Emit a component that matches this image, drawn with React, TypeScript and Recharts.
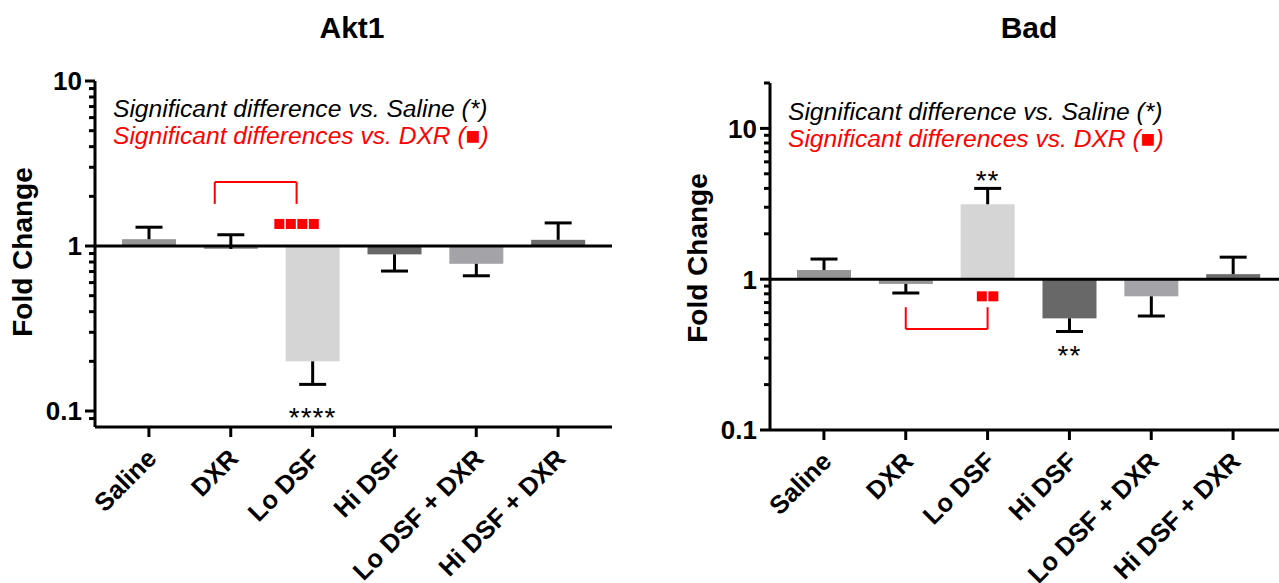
import React from "react";
import { BarChart, Bar, XAxis, YAxis, ReferenceLine, ReferenceDot, Cell } from "recharts";

// groups shared by both panels
const GROUPS = ["Saline", "DXR", "Lo DSF", "Hi DSF", "Lo DSF + DXR", "Hi DSF + DXR"];
const BAR_COLORS = ["#959595", "#979797", "#d5d5d5", "#686868", "#a4a4a8", "#6c6c6c"];

// fold change means and the end of the error bar (SEM tip)
const AKT1_MEAN = [1.1, 0.96, 0.2, 0.89, 0.78, 1.09];
const AKT1_TIP = [1.3, 1.17, 0.145, 0.705, 0.66, 1.38];
const BAD_MEAN = [1.15, 0.93, 3.14, 0.55, 0.77, 1.08];
const BAD_TIP = [1.36, 0.81, 4.0, 0.45, 0.57, 1.4];

// log axis ticks
const AKT1_TICKS = [0.09, 0.1, 0.2, 0.3, 0.4, 0.5, 0.6, 0.7, 0.8, 0.9, 1, 2, 3, 4, 5, 6, 7, 8, 9, 10];
const BAD_TICKS = [0.1, 0.2, 0.3, 0.4, 0.5, 0.6, 0.7, 0.8, 0.9, 1, 2, 3, 4, 5, 6, 7, 8, 9, 10, 20];
const MAJOR_TICKS = [0.1, 1, 10];
const AKT1_DOMAIN = [0.08, 10];
const BAD_DOMAIN = [0.1, 20];

// significance marks (group, value where the mark sits)
const AKT1_STARS = [{ group: "Lo DSF", at: 0.1, text: "****" }];
const BAD_STARS = [
    { group: "Lo DSF", at: 4.95, text: "**" },
    { group: "Hi DSF", at: 0.345, text: "**" },
];
const AKT1_SQUARES = [{ group: "Lo DSF", at: 1.36, count: 4 }];
const BAD_SQUARES = [{ group: "Lo DSF", at: 0.77, count: 2 }];
const AKT1_BRACKET = { from: "DXR", to: "Lo DSF", line: 2.44, leg: 1.8 };
const BAD_BRACKET = { from: "DXR", to: "Lo DSF", line: 0.467, leg: 0.652 };

const FONT = "'Liberation Sans', Arial, sans-serif";
const RED = "#ff0000";
const H = 583;

function fmt(v: number) {
    return v < 1 ? v.toFixed(1) : String(v);
}

function YTick(props: any) {
    const { x, y, payload } = props;
    const major = MAJOR_TICKS.includes(payload.value);
    return (
        <g>
            <line x1={x - (major ? 10 : 6)} x2={x} y1={y} y2={y} stroke="#000" strokeWidth={3} />
            {major && (
                <text x={x - 13} y={y} dy="0.36em" textAnchor="end" fontFamily={FONT}
                    fontWeight="bold" fontSize={26} fill="#000">
                    {fmt(payload.value)}
                </text>
            )}
        </g>
    );
}

function XTick(props: any) {
    const { x, y, payload } = props;
    const tx = x + 9;
    const ty = y + 33;
    return (
        <g>
            <line x1={x} x2={x} y1={y} y2={y + 10} stroke="#000" strokeWidth={3} />
            <text x={tx} y={ty} transform={`rotate(-45 ${tx} ${ty})`} textAnchor="end"
                fontFamily={FONT} fontWeight="bold" fontSize={25.5} fill="#000">
                {payload.value}
            </text>
        </g>
    );
}

function BarShape(props: any) {
    const { x, y, width, height, fill } = props;
    const top = Math.min(y, y + height);
    return <rect x={x} y={top} width={width} height={Math.abs(height)} fill={fill} />;
}

function Whisker(props: any) {
    const { x, y, width, height, payload } = props;
    const top = Math.min(y, y + height);
    const bottom = Math.max(y, y + height);
    const cx = x + width / 2;
    const up = payload.tip > payload.mean;
    const tipY = up ? top : bottom;
    const baseY = up ? bottom : top;
    return (
        <g>
            <line x1={cx} x2={cx} y1={baseY} y2={tipY} stroke="#000" strokeWidth={3} />
            <line x1={cx - 13.5} x2={cx + 13.5} y1={tipY} y2={tipY} stroke="#000" strokeWidth={3} />
        </g>
    );
}

interface PanelProps {
    left: number;
    width: number;
    axisX: number;
    plotTop: number;
    plotBottom: number;
    means: number[];
    tips: number[];
    ticks: number[];
    domain: number[];
    stars: { group: string; at: number; text: string }[];
    squares: { group: string; at: number; count: number }[];
    bracket: { from: string; to: string; line: number; leg: number };
    shift: number; // pixel nudge of the red DXR marks
}

function Panel(p: PanelProps) {
    const data = GROUPS.map((g, i) => ({
        group: g,
        bar: [1, p.means[i]],
        whisker: [p.means[i], p.tips[i]],
        mean: p.means[i],
        tip: p.tips[i],
    }));
    const b = p.bracket;
    const redLine = (props: any) => (
        <line x1={props.x1 + p.shift} x2={props.x2 + p.shift} y1={props.y1} y2={props.y2}
            stroke={RED} strokeWidth={2} />
    );

    return (
        <div style={{ position: "absolute", left: p.left, top: 0 }}>
            <BarChart width={p.width} height={H} data={data}
                margin={{ top: p.plotTop, right: p.width - (p.axisX + 517), bottom: 0, left: 0 }}
                barSize={54} barGap={-54}>
                <XAxis dataKey="group" height={H - p.plotBottom} padding={{ left: 13, right: 13 }}
                    axisLine={{ stroke: "#000", strokeWidth: 3 }} tickLine={false} tickSize={0}
                    tickMargin={0} interval={0} tick={(t: any) => <XTick {...t} />} />
                <YAxis scale="log" domain={p.domain} allowDataOverflow ticks={p.ticks} interval={0}
                    width={p.axisX} axisLine={{ stroke: "#000", strokeWidth: 3 }} tickLine={false}
                    tickSize={0} tickMargin={0} tick={(t: any) => <YTick {...t} />} />
                <Bar dataKey="bar" isAnimationActive={false} shape={BarShape}>
                    {data.map((d, i) => <Cell key={d.group} fill={BAR_COLORS[i]} />)}
                </Bar>
                <Bar dataKey="whisker" isAnimationActive={false} shape={Whisker} />
                <ReferenceLine y={1} stroke="#000" strokeWidth={3} />
                <ReferenceLine segment={[{ x: b.from, y: b.line }, { x: b.to, y: b.line }]} shape={redLine} />
                <ReferenceLine segment={[{ x: b.from, y: b.line }, { x: b.from, y: b.leg }]} shape={redLine} />
                <ReferenceLine segment={[{ x: b.to, y: b.line }, { x: b.to, y: b.leg }]} shape={redLine} />
                {p.stars.map((s, i) => (
                    <ReferenceDot key={"s" + i} x={s.group} y={s.at} r={0}
                        shape={(d: any) => (
                            <text x={d.cx} y={d.cy + 16} textAnchor="middle" fontFamily={FONT}
                                fontSize={28} letterSpacing={1} fill="#000">
                                {s.text}
                            </text>
                        )} />
                ))}
                {p.squares.map((s, i) => (
                    <ReferenceDot key={"q" + i} x={s.group} y={s.at} r={0}
                        shape={(d: any) => {
                            const step = 11.5;
                            const x0 = d.cx + p.shift - (s.count * step - 1.5) / 2;
                            return (
                                <g>
                                    {Array.from({ length: s.count }, (_, k) => (
                                        <rect key={k} x={x0 + k * step} y={d.cy - 5} width={10} height={10} fill={RED} />
                                    ))}
                                </g>
                            );
                        }} />
                ))}
            </BarChart>
        </div>
    );
}

const textBase: React.CSSProperties = {
    position: "absolute",
    fontFamily: FONT,
    whiteSpace: "nowrap",
    color: "#000",
};

function Notes({ left, top }: { left: number; top: number }) {
    return (
        <div style={{ ...textBase, left, top, fontSize: 24.6, fontStyle: "italic", lineHeight: "27px" }}>
            <div>Significant difference vs. Saline (*)</div>
            <div style={{ color: RED }}>Significant differences vs. DXR (■)</div>
        </div>
    );
}

export default function App() {
    return (
        <div style={{ position: "fixed", left: 0, top: 0, width: 1279, height: H, overflow: "hidden", background: "#fff" }}>
            <Panel left={0} width={640} axisX={95} plotTop={81} plotBottom={427}
                means={AKT1_MEAN} tips={AKT1_TIP} ticks={AKT1_TICKS} domain={AKT1_DOMAIN}
                stars={AKT1_STARS} squares={AKT1_SQUARES} bracket={AKT1_BRACKET} shift={-16} />
            <Panel left={640} width={660} axisX={130} plotTop={83} plotBottom={430}
                means={BAD_MEAN} tips={BAD_TIP} ticks={BAD_TICKS} domain={BAD_DOMAIN}
                stars={BAD_STARS} squares={BAD_SQUARES} bracket={BAD_BRACKET} shift={0} />

            <div style={{ ...textBase, left: 352, top: 13, transform: "translateX(-50%)", fontSize: 30, fontWeight: "bold", lineHeight: "30px" }}>Akt1</div>
            <div style={{ ...textBase, left: 1029, top: 13, transform: "translateX(-50%)", fontSize: 30, fontWeight: "bold", lineHeight: "30px" }}>Bad</div>

            <div style={{ ...textBase, left: 23, top: 252, transform: "translate(-50%, -50%) rotate(-90deg)", fontSize: 28, fontWeight: "bold" }}>Fold Change</div>
            <div style={{ ...textBase, left: 698, top: 258, transform: "translate(-50%, -50%) rotate(-90deg)", fontSize: 28, fontWeight: "bold" }}>Fold Change</div>

            <Notes left={113} top={95} />
            <Notes left={788} top={98} />
        </div>
    );
}
